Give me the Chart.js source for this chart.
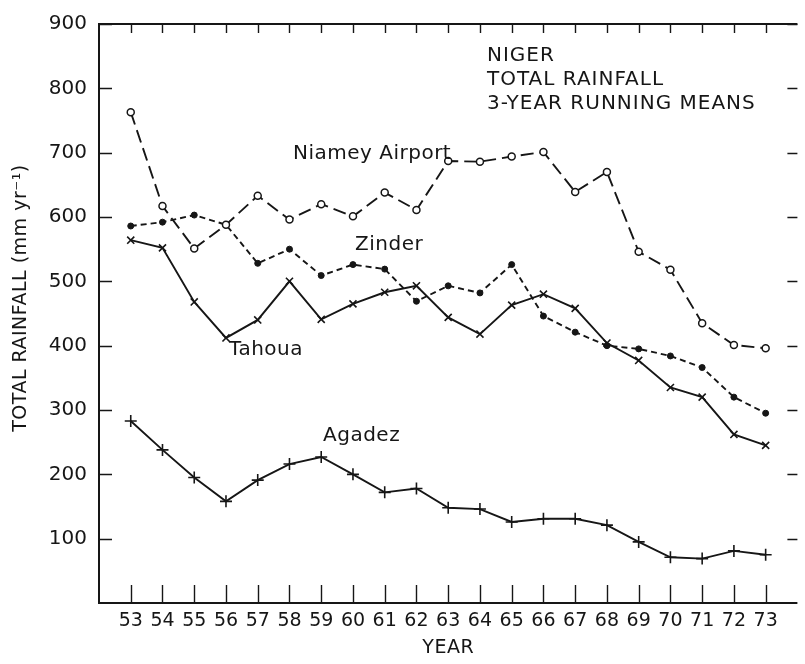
<!DOCTYPE html>
<html>
<head>
<meta charset="utf-8">
<script src="https://cdn.jsdelivr.net/npm/chart.js@4.4.1/dist/chart.umd.min.js"></script>
<style>
  html, body { margin: 0; padding: 0; background: #fff; }
  #wrap { width: 805px; height: 664px; }
</style>
</head>
<body>
<div id="wrap"><canvas id="c"></canvas></div>
<script>
// ---- data (3-year running means, mm/yr) ----
const years = [53,54,55,56,57,58,59,60,61,62,63,64,65,66,67,68,69,70,71,72,73];
const niamey = [763,617,551,588,633,596,620,601,638,611,687,686,694,701,639,670,546,518,435,401,396];
const zinder = [586,592,603,588,528,550,509,526,519,469,493,482,526,446,421,400,395,384,366,320,295];
const tahoua = [564,552,468,412,440,500,441,465,483,493,444,418,463,480,458,404,377,335,320,262,245];
const agadez = [283,238,195,158,191,216,227,200,172,178,148,146,126,131,131,121,95,71,69,81,75];
const yTickValues = [100,200,300,400,500,600,700,800,900];

const INK = '#161616';
const FONT = '"DejaVu Sans", "Liberation Sans", sans-serif';

function toXY(vals) { return years.map((yr, i) => ({ x: yr, y: vals[i] })); }

const framePlugin = {
  id: 'frame',
  beforeDraw(chart) {
    const ctx = chart.ctx;
    ctx.save();
    ctx.fillStyle = '#fff';
    ctx.fillRect(0, 0, chart.width, chart.height);
    ctx.restore();
  },
  afterDraw(chart) {
    const { ctx, chartArea: a, scales: { x, y } } = chart;
    ctx.save();
    ctx.strokeStyle = INK;
    ctx.lineCap = 'butt';
    // frame (left, bottom, top)
    ctx.lineWidth = 2;
    ctx.beginPath();
    ctx.moveTo(a.right, a.top);
    ctx.lineTo(a.left, a.top);
    ctx.lineTo(a.left, a.bottom);
    ctx.lineTo(a.right, a.bottom);
    ctx.stroke();
    // inward ticks
    ctx.lineWidth = 1.4;
    ctx.beginPath();
    years.forEach(v => {
      const px = Math.round(x.getPixelForValue(v)) + 0.5;
      ctx.moveTo(px, a.bottom); ctx.lineTo(px, a.bottom - 18);
      ctx.moveTo(px, a.top); ctx.lineTo(px, a.top + 9);
    });
    yTickValues.forEach(v => {
      const py = Math.round(y.getPixelForValue(v)) + 0.5;
      ctx.moveTo(a.left, py); ctx.lineTo(a.left + 13, py);
      ctx.moveTo(a.right, py); ctx.lineTo(a.right - 10, py);
    });
    ctx.stroke();

    // text annotations
    ctx.fillStyle = INK;
    ctx.textBaseline = 'middle';
    ctx.textAlign = 'left';
    try { ctx.letterSpacing = '0.5px'; } catch (e) {}
    ctx.font = '20px ' + FONT;
    ctx.fillText('Niamey Airport', 293, 154);
    ctx.fillText('Zinder', 355, 245);
    ctx.fillText('Tahoua', 229, 350);
    ctx.fillText('Agadez', 323, 436);
    try { ctx.letterSpacing = '1px'; } catch (e) {}
    ctx.fillText('NIGER', 487, 56);
    ctx.fillText('TOTAL RAINFALL', 487, 80);
    ctx.fillText('3-YEAR RUNNING MEANS', 487, 104);

    // axis titles
    ctx.font = '19px ' + FONT;
    try { ctx.letterSpacing = '0.5px'; } catch (e) {}
    ctx.textAlign = 'center';
    ctx.fillText('YEAR', (a.left + a.right) / 2, 648);
    ctx.save();
    ctx.translate(21, 298);
    ctx.rotate(-Math.PI / 2);
    ctx.fillText('TOTAL RAINFALL (mm yr\u207B\u00B9)', 0, 0);
    ctx.restore();
    ctx.restore();
  }
};

const common = { borderColor: INK, borderWidth: 1.9, tension: 0, pointBorderColor: INK };

new Chart(document.getElementById('c'), {
  type: 'line',
  data: {
    datasets: [
      Object.assign({}, common, {
        label: 'Niamey Airport', data: toXY(niamey),
        borderDash: [13, 6], pointStyle: 'circle', pointRadius: 3.5,
        pointBackgroundColor: '#fff', pointBorderWidth: 1.5
      }),
      Object.assign({}, common, {
        label: 'Zinder', data: toXY(zinder),
        borderDash: [6, 4], pointStyle: 'circle', pointRadius: 3,
        pointBackgroundColor: INK, pointBorderWidth: 1
      }),
      Object.assign({}, common, {
        label: 'Tahoua', data: toXY(tahoua),
        pointStyle: 'crossRot', pointRadius: 5, pointBorderWidth: 1.6
      }),
      Object.assign({}, common, {
        label: 'Agadez', data: toXY(agadez),
        pointStyle: 'cross', pointRadius: 6, pointBorderWidth: 1.6
      })
    ]
  },
  options: {
    responsive: true,
    maintainAspectRatio: false,
    animation: false,
    layout: { padding: { top: 17, left: 0, right: 0, bottom: 0 } },
    plugins: { legend: { display: false }, tooltip: { enabled: false } },
    scales: {
      x: {
        type: 'linear', min: 52, max: 74,
        afterBuildTicks: s => { s.ticks = years.map(v => ({ value: v })); },
        afterFit: s => { s.height = 61; },
        grid: { display: false, drawTicks: false },
        border: { display: false },
        ticks: { color: INK, font: { family: FONT, size: 19 }, padding: 7, maxRotation: 0, autoSkip: false }
      },
      y: {
        type: 'linear', min: 0, max: 900,
        afterBuildTicks: s => { s.ticks = yTickValues.map(v => ({ value: v })); },
        afterFit: s => { s.width = 99; },
        grid: { display: false, drawTicks: false },
        border: { display: false },
        ticks: { color: INK, font: { family: FONT, size: 20 }, padding: 12 }
      }
    }
  },
  plugins: [framePlugin]
});
</script>
</body>
</html>
